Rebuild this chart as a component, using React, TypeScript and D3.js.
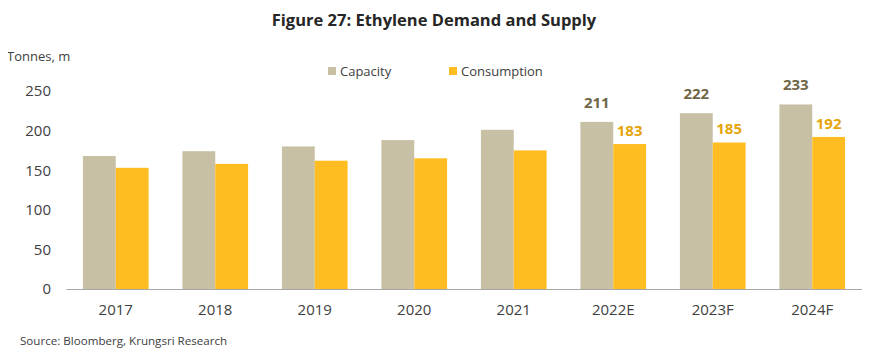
import React, { useEffect, useRef } from 'react';
import * as d3 from 'd3';

const years = ['2017', '2018', '2019', '2020', '2021', '2022E', '2023F', '2024F'];
const capacity = [168, 174, 180, 188, 201, 211, 222, 233];
const consumption = [153, 158, 162, 165, 175, 183, 185, 192];
const yTicks = [0, 50, 100, 150, 200, 250];
// only the forecast years carry value labels
const labelled = ['2022E', '2023F', '2024F'];

const FONT = '"Open Sans", sans-serif';

const App: React.FC = () => {
  const svgRef = useRef<SVGSVGElement>(null);

  useEffect(() => {
    if (!svgRef.current) return;
    const width = 870;
    const height = 362;
    const svg = d3.select(svgRef.current);
    svg.selectAll('*').remove();
    svg.attr('width', width).attr('height', height);

    const x = d3.scaleBand<string>().domain(years).range([66, 862]).paddingInner(0.34).paddingOuter(0.17);
    const sub = d3.scaleBand<string>().domain(['cap', 'con']).range([0, x.bandwidth()]);
    const y = d3.scaleLinear().domain([0, 250]).range([289, 91]);

    svg.append('text')
      .attr('x', 434).attr('y', 26)
      .attr('text-anchor', 'middle')
      .attr('font-family', FONT).attr('font-weight', 'bold').attr('font-size', 16.5)
      .attr('fill', '#262626')
      .text('Figure 27: Ethylene Demand and Supply');

    svg.append('text')
      .attr('x', 7).attr('y', 61)
      .attr('font-family', FONT).attr('font-size', 13)
      .attr('fill', '#404040')
      .text('Tonnes, m');

    // legend
    const legend = [
      { label: 'Capacity', color: '#C7C0A5', x: 328 },
      { label: 'Consumption', color: '#FFBD21', x: 449 },
    ];
    legend.forEach(l => {
      svg.append('rect').attr('x', l.x).attr('y', 67).attr('width', 8).attr('height', 8).attr('fill', l.color);
      svg.append('text')
        .attr('x', l.x + 12).attr('y', 76)
        .attr('font-family', FONT).attr('font-size', 13)
        .attr('fill', '#404040')
        .text(l.label);
    });

    // y axis labels (no line)
    const yAxis = svg.append('g')
      .attr('transform', 'translate(56,0)')
      .call(d3.axisLeft(y).tickValues(yTicks).tickSize(0).tickPadding(5));
    yAxis.select('.domain').remove();
    yAxis.selectAll('text')
      .attr('font-family', FONT).attr('font-size', 15).attr('fill', '#404040');

    const g = svg.append('g');
    years.forEach((yr, i) => {
      const x0 = x(yr)!;
      g.append('rect')
        .attr('x', x0 + sub('cap')!).attr('y', y(capacity[i]))
        .attr('width', sub.bandwidth()).attr('height', y(0) - y(capacity[i]))
        .attr('fill', '#C7C0A5');
      g.append('rect')
        .attr('x', x0 + sub('con')!).attr('y', y(consumption[i]))
        .attr('width', sub.bandwidth()).attr('height', y(0) - y(consumption[i]))
        .attr('fill', '#FFBD21');
      if (labelled.includes(yr)) {
        g.append('text')
          .attr('x', x0 + sub('cap')! + sub.bandwidth() / 2).attr('y', y(capacity[i]) - 14)
          .attr('text-anchor', 'middle')
          .attr('font-family', FONT).attr('font-weight', 'bold').attr('font-size', 15)
          .attr('fill', '#6F6645')
          .text(capacity[i]);
        g.append('text')
          .attr('x', x0 + sub('con')! + sub.bandwidth() / 2).attr('y', y(consumption[i]) - 8)
          .attr('text-anchor', 'middle')
          .attr('font-family', FONT).attr('font-weight', 'bold').attr('font-size', 15)
          .attr('fill', '#E5A50A')
          .text(consumption[i]);
      }
    });

    // x axis
    const xAxis = svg.append('g')
      .attr('transform', `translate(0,${y(0)})`)
      .call(d3.axisBottom(x).tickSize(0).tickPadding(15));
    xAxis.select('.domain').attr('stroke', '#A6A6A6').attr('stroke-width', 1);
    xAxis.selectAll('text')
      .attr('font-family', FONT).attr('font-size', 15).attr('fill', '#404040');

    svg.append('text')
      .attr('x', 20).attr('y', 345)
      .attr('font-family', FONT).attr('font-size', 11.6)
      .attr('fill', '#404040')
      .text('Source: Bloomberg, Krungsri Research');
  }, []);

  return (
    <div style={{ margin: -8 }}>
      <svg ref={svgRef}></svg>
    </div>
  );
};

export default App;
